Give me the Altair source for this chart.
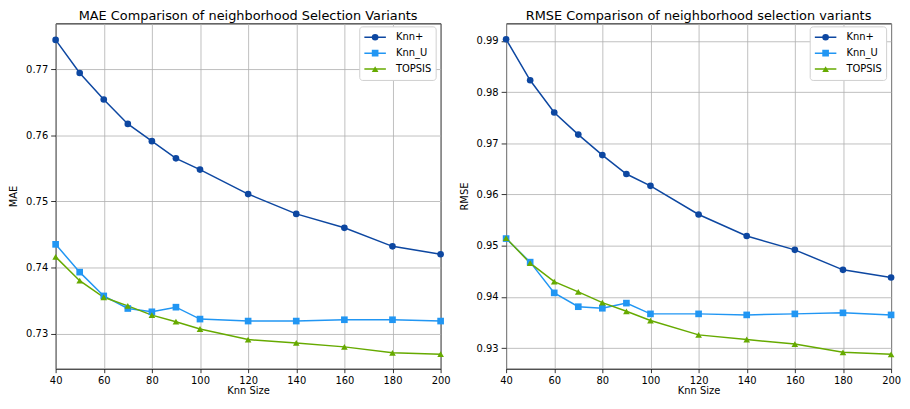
import altair as alt
import pandas as pd

k_sizes = [40, 50, 60, 70, 80, 90, 100, 120, 140, 160, 180, 200]
x_ticks = [40, 60, 80, 100, 120, 140, 160, 180, 200]
series_names = ["Knn+", "Knn_U", "TOPSIS"]
series_colors = ["#0D47A1", "#2196F3", "#66AA00"]
series_shapes = ["circle", "square", "triangle-up"]
marker_sizes = [45, 45, 60]

mae_knn_plus = [0.7744, 0.7694, 0.7654, 0.7617, 0.7591, 0.7565, 0.7548, 0.7511, 0.7481, 0.7460, 0.7432, 0.7420]
mae_knn_u = [0.7435, 0.7393, 0.7357, 0.7338, 0.7333, 0.7340, 0.7322, 0.7319, 0.7319, 0.7321, 0.7321, 0.7319]
mae_topsis = [0.7416, 0.7380, 0.7355, 0.7342, 0.7328, 0.7318, 0.7307, 0.7291, 0.7286, 0.7280, 0.7271, 0.7269]

rmse_knn_plus = [0.9903, 0.9823, 0.9760, 0.9717, 0.9677, 0.9640, 0.9617, 0.9561, 0.9519, 0.9492, 0.9453, 0.9438]
rmse_knn_u = [0.9514, 0.9468, 0.9408, 0.9381, 0.9378, 0.9388, 0.9367, 0.9367, 0.9365, 0.9367, 0.9369, 0.9365]
rmse_topsis = [0.9515, 0.9466, 0.9430, 0.9410, 0.9389, 0.9372, 0.9354, 0.9326, 0.9317, 0.9308, 0.9292, 0.9288]

mae_ticks = [0.73, 0.74, 0.75, 0.76, 0.77]
rmse_ticks = [0.93, 0.94, 0.95, 0.96, 0.97, 0.98, 0.99]


def long_df(a, b, c):
    rows = []
    for name, vals in zip(series_names, [a, b, c]):
        for k, v in zip(k_sizes, vals):
            rows.append({"k": k, "v": v, "series": name, "series_line": name,
                         "series_size": name})
    return pd.DataFrame(rows)


FONT = "DejaVu Sans"


def panel(df, title, ytitle, ydomain, yticks):
    x = alt.X("k:Q", scale=alt.Scale(domain=[40, 200], nice=False, zero=False),
              axis=alt.Axis(values=x_ticks, title="Knn Size", format="d", labelFlush=False,
                            tickSize=4, labelPadding=2.5, titlePadding=1))
    y = alt.Y("v:Q", scale=alt.Scale(domain=ydomain, nice=False, zero=False),
              axis=alt.Axis(values=yticks, title=ytitle, format=".2f", labelFlush=False,
                            tickSize=5, labelPadding=3, titlePadding=7))
    line_legend = alt.Legend(
        title=None, orient="none", legendX=306, legendY=3,
        symbolType="stroke", symbolSize=470, symbolStrokeWidth=1.5,
        labelFont=FONT, labelFontSize=10, labelColor="black", labelOffset=9,
        padding=4, rowPadding=2, clipHeight=14,
        fillColor="white", strokeColor="#d0d0d0", cornerRadius=3, zindex=0,
    )
    point_legend = alt.Legend(
        title=None, orient="none", legendX=313, legendY=3,
        symbolSize=45, symbolStrokeWidth=0,
        labelFont=FONT, labelFontSize=10, labelExpr="''", labelOffset=9,
        padding=4, rowPadding=2, clipHeight=14, zindex=1,
    )
    # line scale domain comes from the data (sorted), so its legend stays separate
    lines = alt.Chart(df).mark_line(strokeWidth=1.5).encode(
        x=x, y=y,
        stroke=alt.Stroke("series_line:N", scale=alt.Scale(range=series_colors),
                          legend=line_legend),
    )
    points = alt.Chart(df).mark_point(filled=True, opacity=1, strokeWidth=0).encode(
        x=x, y=y,
        fill=alt.Fill("series:N", scale=alt.Scale(domain=series_names, range=series_colors),
                      legend=point_legend),
        shape=alt.Shape("series:N", scale=alt.Scale(domain=series_names, range=series_shapes),
                        legend=point_legend),
        size=alt.Size("series_size:N", scale=alt.Scale(range=marker_sizes), legend=None),
    )
    return alt.layer(lines, points).properties(
        width=388, height=348,
        title=alt.TitleParams(title, font=FONT, fontSize=13, fontWeight="normal", color="black",
                              anchor="middle", offset=0),
    )


left = panel(long_df(mae_knn_plus, mae_knn_u, mae_topsis),
             "MAE Comparison of neighborhood Selection Variants", "MAE",
             [0.7247, 0.7769], mae_ticks)
right = panel(long_df(rmse_knn_plus, rmse_knn_u, rmse_topsis),
              "RMSE Comparison of neighborhood selection variants", "RMSE",
              [0.9260, 0.9934], rmse_ticks)

chart = alt.hconcat(left, right, spacing=7).resolve_scale(
    stroke="independent", fill="independent", shape="independent", size="independent",
    y="independent"
).properties(
    padding={"top": 0, "bottom": -2, "left": 0, "right": 0}, background="white"
).configure_view(
    stroke="black", strokeWidth=1
).configure_axis(
    labelFont=FONT, labelFontSize=10, labelColor="black",
    tickColor="black", tickWidth=0.8, domain=False,
    grid=True, gridColor="#b0b0b0", gridWidth=0.8,
    titleFont=FONT, titleFontSize=10, titleFontWeight="normal", titleColor="black",
)

chart.save("out.html", embed_options={"renderer": "svg", "actions": False})
